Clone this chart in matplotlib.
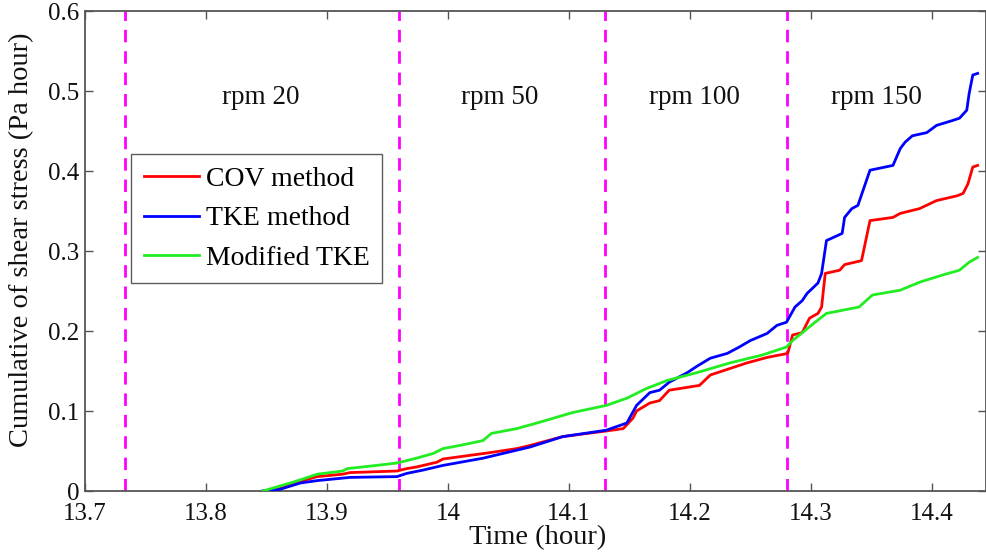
import matplotlib
matplotlib.use("Agg")
import matplotlib.pyplot as plt

plt.rcParams['font.family'] = ['Liberation Serif', 'DejaVu Serif']
plt.rcParams['mathtext.fontset'] = 'stix'

# Time axis (hour) and cumulative shear stress (Pa hour) for each method
cov_t = [13.847, 13.859, 13.878, 13.892, 13.913, 13.919, 13.958, 13.966, 13.974, 13.991,
         13.996, 14.035, 14.057, 14.068, 14.095, 14.131, 14.145, 14.153, 14.156, 14.167,
         14.175, 14.183, 14.208, 14.217, 14.233, 14.247, 14.264, 14.281, 14.285, 14.293,
         14.299, 14.306, 14.309, 14.312, 14.324, 14.328, 14.342, 14.349, 14.368, 14.374,
         14.390, 14.404, 14.421, 14.426, 14.430, 14.434, 14.438]
cov_y = [0.000, 0.002, 0.012, 0.018, 0.021, 0.023, 0.025, 0.028, 0.030, 0.036,
         0.040, 0.048, 0.053, 0.057, 0.068, 0.075, 0.078, 0.091, 0.100, 0.110,
         0.113, 0.126, 0.132, 0.145, 0.153, 0.160, 0.167, 0.172, 0.195, 0.198,
         0.216, 0.222, 0.230, 0.272, 0.276, 0.283, 0.288, 0.338, 0.342, 0.347,
         0.353, 0.363, 0.369, 0.372, 0.384, 0.405, 0.407]

tke_t = [13.847, 13.861, 13.878, 13.892, 13.919, 13.958, 13.966, 13.979, 13.996, 14.029,
         14.068, 14.095, 14.131, 14.148, 14.156, 14.167, 14.175, 14.183, 14.198, 14.206,
         14.217, 14.231, 14.241, 14.250, 14.264, 14.272, 14.280, 14.287, 14.293, 14.297,
         14.306, 14.309, 14.313, 14.326, 14.328, 14.334, 14.339, 14.349, 14.368, 14.374,
         14.378, 14.384, 14.396, 14.404, 14.417, 14.423, 14.429, 14.431, 14.434, 14.438]
tke_y = [0.000, 0.002, 0.010, 0.013, 0.017, 0.018, 0.022, 0.026, 0.032, 0.041,
         0.055, 0.068, 0.076, 0.085, 0.107, 0.123, 0.126, 0.136, 0.148, 0.156,
         0.166, 0.172, 0.180, 0.188, 0.197, 0.207, 0.211, 0.230, 0.238, 0.247,
         0.260, 0.272, 0.313, 0.322, 0.342, 0.353, 0.357, 0.401, 0.407, 0.428,
         0.436, 0.444, 0.448, 0.457, 0.463, 0.466, 0.476, 0.497, 0.520, 0.522]

mod_t = [13.847, 13.872, 13.892, 13.913, 13.917, 13.941, 13.958, 13.974, 13.988, 13.996,
         14.010, 14.029, 14.036, 14.057, 14.076, 14.103, 14.131, 14.148, 14.164, 14.181,
         14.206, 14.233, 14.260, 14.280, 14.285, 14.302, 14.313, 14.340, 14.351, 14.374,
         14.390, 14.409, 14.423, 14.431, 14.438]
mod_y = [0.000, 0.011, 0.021, 0.025, 0.028, 0.032, 0.035, 0.041, 0.047, 0.053,
         0.057, 0.063, 0.072, 0.078, 0.086, 0.098, 0.107, 0.116, 0.128, 0.138,
         0.148, 0.160, 0.170, 0.180, 0.188, 0.209, 0.222, 0.230, 0.245, 0.251,
         0.261, 0.270, 0.276, 0.286, 0.292]

# Rotation-speed change times and stage labels
stage_changes = [13.733, 13.96, 14.13, 14.28]
stage_names = ["rpm 20", "rpm 50", "rpm 100", "rpm 150"]
stage_label_t = [13.845, 14.043, 14.204, 14.354]

x_ticks = [13.7, 13.8, 13.9, 14.0, 14.1, 14.2, 14.3, 14.4]
x_tick_labels = ["13.7", "13.8", "13.9", "14", "14.1", "14.2", "14.3", "14.4"]
y_ticks = [0, 0.1, 0.2, 0.3, 0.4, 0.5, 0.6]
y_tick_labels = ["0", "0.1", "0.2", "0.3", "0.4", "0.5", "0.6"]

W, H = 986, 554
fig = plt.figure(figsize=(W / 100, H / 100), dpi=100)
ax = fig.add_axes([85 / W, 63 / H, (985.5 - 85) / W, (491 - 11) / H])

lw = 2.0
ax.plot(cov_t, cov_y, color="#ff0000", lw=lw, label="COV method", zorder=3)
ax.plot(tke_t, tke_y, color="#0000ff", lw=lw, label="TKE method", zorder=3)
ax.plot(mod_t, mod_y, color="#22ec22", lw=lw, label="Modified TKE", zorder=3)

for t in stage_changes:
    ax.axvline(t, color="#ff00ff", lw=2.0, ls=(0, (4.5, 3.2)), zorder=2)

for t, name in zip(stage_label_t, stage_names):
    ax.text(t, 0.492, name, ha="center", va="center", fontsize=19.5, color="#111111")

ax.set_xlim(13.7, 14.4445)
ax.set_ylim(0, 0.6)
ax.set_xticks(x_ticks)
ax.set_xticklabels(x_tick_labels)
ax.set_yticks(y_ticks)
ax.set_yticklabels(y_tick_labels)

spine_color = "#555555"
for s in ax.spines.values():
    s.set_color(spine_color)
    s.set_linewidth(1.3)
ax.tick_params(direction="in", length=6, width=1.0, color=spine_color,
               top=True, right=True, labelsize=18, labelcolor="#111111")
ax.tick_params(axis="x", pad=9)
ax.tick_params(axis="y", pad=4)

ax.set_xlabel("Time (hour)", fontsize=20.5, color="#111111")
ax.xaxis.set_label_coords((538 - 85) / (985.5 - 85), -(538 - 491) / 480)
ax.xaxis.label.set_va("center")
ax.set_ylabel("Cumulative of shear stress (Pa hour)", fontsize=20.5, color="#111111")
ax.yaxis.set_label_coords(-(85 - 22) / (985.5 - 85), (491 - 240) / 480)
ax.yaxis.label.set_va("center")

leg = ax.legend(loc="upper left", bbox_to_anchor=(131 / W, 1 - 154 / H),
                bbox_transform=fig.transFigure, fontsize=20, frameon=True,
                fancybox=False, edgecolor="#333333", handlelength=2.0,
                handletextpad=0.25, labelspacing=0.5, borderpad=0.45,
                borderaxespad=0)
leg.get_frame().set_linewidth(1.0)
for line in leg.get_lines():
    line.set_linewidth(2.0)

fig.savefig("out.png", dpi=100)
